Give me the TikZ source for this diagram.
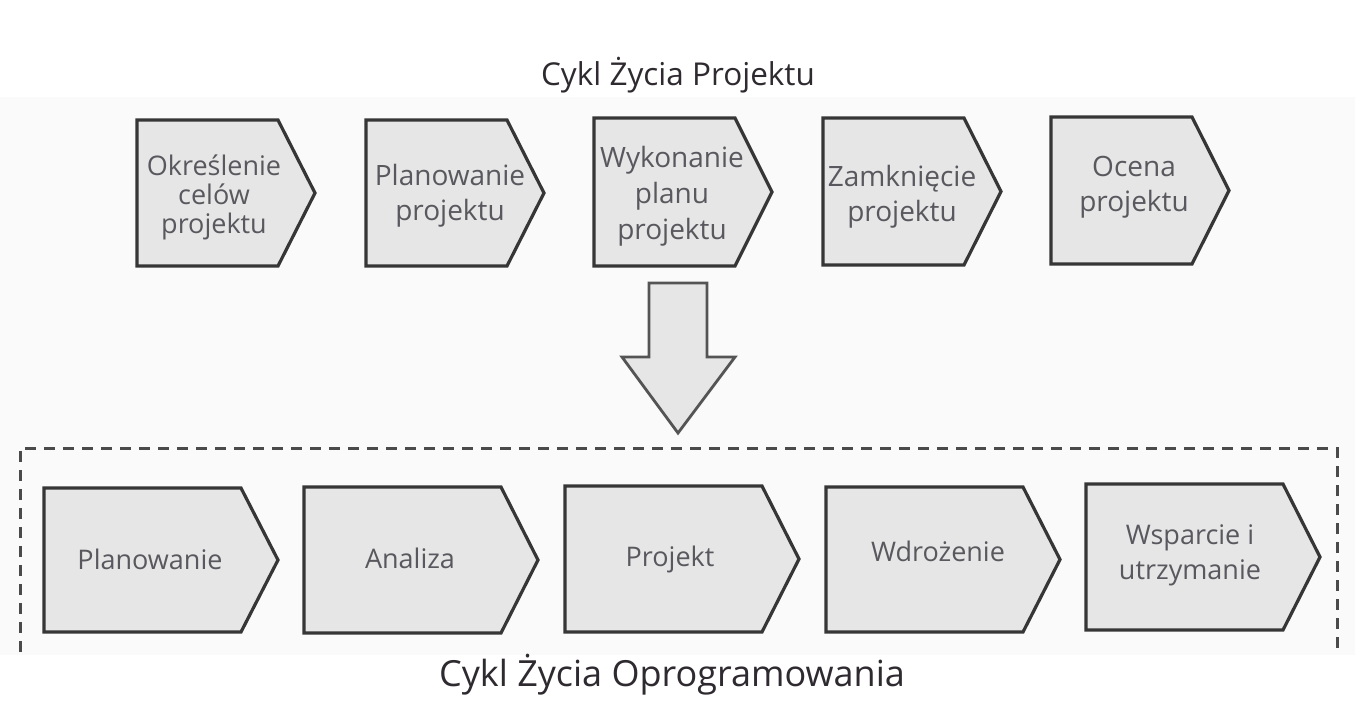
\documentclass[tikz,border=0pt]{standalone}
\usepackage{fontspec}
\setmainfont{Open Sans}
\definecolor{chevfill}{HTML}{E6E6E6}
\definecolor{chevline}{HTML}{363636}
\definecolor{labtext}{HTML}{58585E}
\definecolor{titletext}{HTML}{2E2A30}
\definecolor{scanbg}{HTML}{FAFAFA}
\definecolor{dashcol}{HTML}{4A4A4A}
\newcommand\chevshape[5]{% x, ytop, ybot, rectw, tipw
  \draw[chev] (#1,#2) -- ({#1+#4},#2) -- ({#1+#4+#5},{(#2+#3)/2}) -- ({#1+#4},#3) -- (#1,#3) -- cycle;}
\begin{document}
\begin{tikzpicture}[x=1pt,y=-1pt,
  chev/.style={fill=chevfill,draw=chevline,line width=3.2pt,line join=miter},
  labA/.style={text=labtext,align=center,inner sep=0pt,font=\fontsize{27}{29}\selectfont},
  labB/.style={text=labtext,align=center,inner sep=0pt,font=\fontsize{28}{35}\selectfont},
  labC/.style={text=labtext,align=center,inner sep=0pt,font=\fontsize{27}{35}\selectfont},
  bigarrow/.style={fill=chevfill,draw=chevline!85,line width=2.8pt,line join=miter},
  frame/.style={draw=dashcol,line width=3pt,dash pattern=on 11pt off 8pt}]
\useasboundingbox (0,0) rectangle (1355,710);
\fill[white] (0,0) rectangle (1355,710);
\fill[scanbg] (0,97) rectangle (1355,655);

% title top
\node[text=titletext,anchor=base,inner sep=0pt,font=\fontsize{31.5}{36}\selectfont] (title1) at (678,85) {Cykl Życia Projektu};

% top chevrons
\chevshape{137}{120}{266}{141}{37}
\chevshape{366}{120}{266}{141}{37}
\chevshape{594}{118}{266}{141}{37}
\chevshape{823}{118}{265}{141}{37}
\chevshape{1051}{117}{264}{141}{37}
\node[labA] (p1) at (214,197) {Określenie\\celów\\projektu};
\node[labB] (p2) at (450,195.5) {Planowanie\\projektu};
\node[labB,font=\fontsize{28}{36}\selectfont] (p3) at (672,196) {Wykonanie\\planu\\projektu};
\node[labB] (p4) at (902,196.5) {Zamknięcie\\projektu};
\node[labB] (p5) at (1134,187.5) {Ocena\\projektu};

% big down arrow
\coordinate (arrowtop) at (678,283);
\coordinate (arrowtip) at (678,433);
\draw[bigarrow] (649,283) -- (707,283) -- (707,357) -- (735,357) -- (arrowtip) -- (622,357) -- (649,357) -- cycle;

% dashed frame (open at the bottom)
\draw[frame] (20,652) -- (20,448) -- (1337,448) -- (1337,652);

% bottom chevrons
\chevshape{44}{488}{632}{197}{37}
\chevshape{304}{487}{633}{197}{37}
\chevshape{565}{486}{632}{197}{37}
\chevshape{826}{487}{632}{197}{37}
\chevshape{1086}{484}{630}{197}{37}
\node[labC,anchor=base] (s1) at (150,569) {Planowanie};
\node[labC,anchor=base] (s2) at (410,568) {Analiza};
\node[labC,anchor=base] (s3) at (670,566) {Projekt};
\node[labC,anchor=base] (s4) at (938,561) {Wdrożenie};
\node[labC] (s5) at (1190,555) {Wsparcie i\\utrzymanie};

% title bottom
\node[text=titletext,anchor=base,inner sep=0pt,font=\fontsize{36}{42}\selectfont] (title2) at (672,686) {Cykl Życia Oprogramowania};
\end{tikzpicture}
\end{document}
